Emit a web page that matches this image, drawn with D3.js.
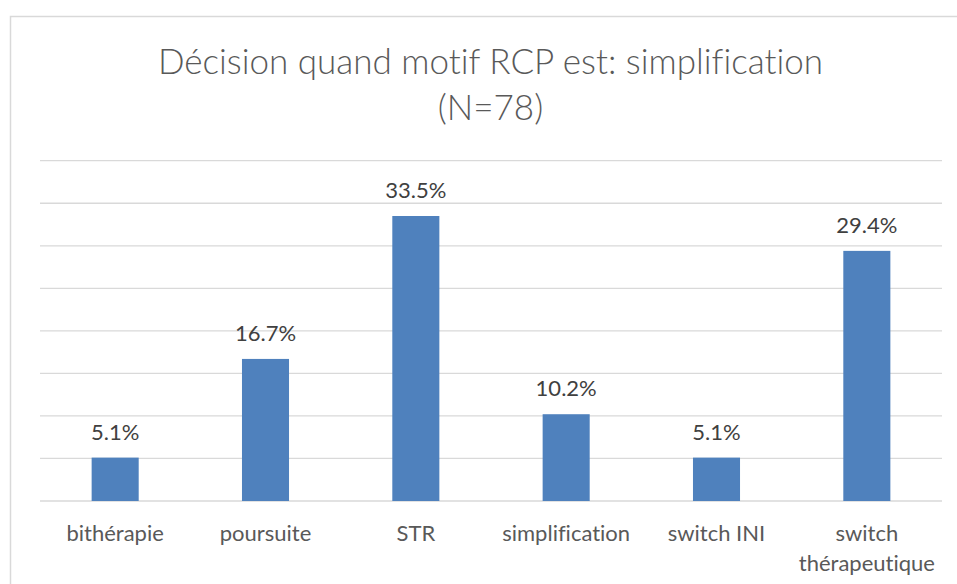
<!DOCTYPE html>
<html>
<head>
<meta charset="utf-8">
<script src="https://cdn.jsdelivr.net/npm/d3@7/dist/d3.min.js"></script>
<style>
  html, body { margin: 0; padding: 0; background: #fff; }
  svg { display: block; }
  text { font-family: Lato, "Open Sans", sans-serif; font-variant-ligatures: none; }
</style>
</head>
<body>
<svg id="chart" width="957" height="584"></svg>
<script>
const titleLines = ["Décision quand motif RCP est: simplification", "(N=78)"];
const categories = ["bithérapie", "poursuite", "STR", "simplification", "switch INI", "switch\nthérapeutique"];
const values = [5.1, 16.7, 33.5, 10.2, 5.1, 29.4];
const yTicks = [0, 5, 10, 15, 20, 25, 30, 35, 40];

const svg = d3.select("#chart");
const W = 957, H = 584;
const plot = { left: 40, right: 942, top: 160.7, bottom: 501 };

svg.append("rect").attr("x", 10.5).attr("y", 16.5).attr("width", W).attr("height", H)
  .attr("fill", "#fff").attr("stroke", "#d9d9d9").attr("stroke-width", 1.5);

const title = svg.append("text").attr("text-anchor", "middle").attr("fill", "#595959")
  .attr("font-size", 35).attr("font-weight", 300);
titleLines.forEach((t, i) => {
  title.append("tspan").attr("x", (plot.left + plot.right) / 2 - 0.5).attr("y", 74 + i * 46).text(t);
});

const x = d3.scaleBand().domain(categories).range([plot.left, plot.right]).padding(0);
const y = d3.scaleLinear().domain([0, 40]).range([plot.bottom, plot.top]);

svg.append("g").selectAll("line").data(yTicks).join("line")
  .attr("x1", plot.left).attr("x2", plot.right)
  .attr("y1", d => y(d)).attr("y2", d => y(d))
  .attr("stroke", "#d9d9d9").attr("stroke-width", 1.3);

const barW = x.bandwidth() * 0.313;
svg.append("g").selectAll("rect").data(values).join("rect")
  .attr("x", (d, i) => x(categories[i]) + x.bandwidth() / 2 - barW / 2)
  .attr("width", barW)
  .attr("y", d => y(d))
  .attr("height", d => y(0) - y(d))
  .attr("fill", "#4f81bd");

svg.append("g").selectAll("text").data(values).join("text")
  .attr("x", (d, i) => x(categories[i]) + x.bandwidth() / 2)
  .attr("y", d => y(d) - 18)
  .attr("text-anchor", "middle").attr("fill", "#404040").attr("font-size", 22)
  .text(d => d.toFixed(1) + "%");

const catG = svg.append("g");
categories.forEach(c => {
  const t = catG.append("text").attr("text-anchor", "middle").attr("fill", "#595959").attr("font-size", 22);
  c.split("\n").forEach((line, j) => {
    t.append("tspan").attr("x", x(c) + x.bandwidth() / 2).attr("y", 540.5 + j * 30).text(line);
  });
});
</script>
</body>
</html>
